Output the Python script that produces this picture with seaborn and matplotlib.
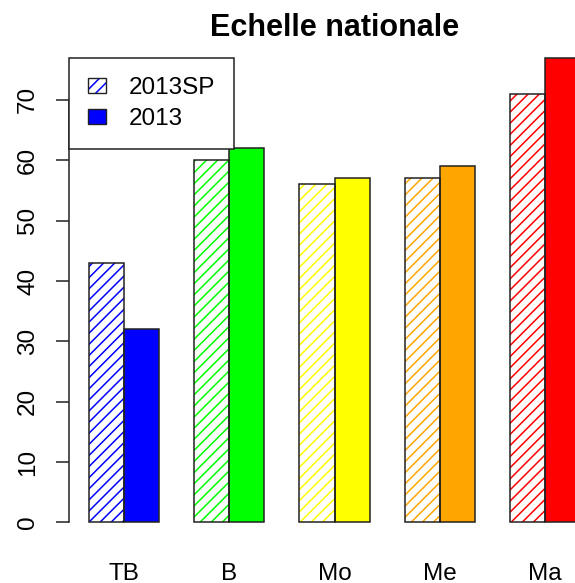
import pandas as pd
import matplotlib.pyplot as plt
from matplotlib.patches import Patch, Rectangle
import seaborn as sns

# Données
categories = ["TB", "B", "Mo", "Me", "Ma"]
series = ["2013SP", "2013"]
val_2013sp = [43, 60, 56, 57, 71]
val_2013 = [32, 62, 57, 59, 77]
couleurs = ["#0000FF", "#00FF00", "#FFFF00", "#FFA500", "#FF0000"]
y_ticks = [0, 10, 20, 30, 40, 50, 60, 70]

df = pd.DataFrame({
    "cat": categories * 2,
    "serie": [series[0]] * len(categories) + [series[1]] * len(categories),
    "val": val_2013sp + val_2013,
})

sns.set_style("white")
plt.rcParams["font.family"] = ["Liberation Sans", "DejaVu Sans"]
plt.rcParams["hatch.linewidth"] = 1.1
plt.rcParams["text.color"] = "black"
plt.rcParams["xtick.color"] = "black"
plt.rcParams["ytick.color"] = "black"
plt.rcParams["axes.titlecolor"] = "black"

fig = plt.figure(figsize=(5.75, 5.83), dpi=100)
# zone de tracé à la manière de R (déborde à droite)
ax = fig.add_axes([69 / 575, 1 - 541 / 583, 531 / 575, 502 / 583])

sns.barplot(data=df, x="cat", y="val", hue="serie", order=categories,
            hue_order=series, dodge=True, width=2 / 3, gap=0,
            errorbar=None, legend=False, ax=ax)

# couleurs par catégorie, hachures pour 2013SP
for p in list(ax.patches):
    centre = p.get_x() + p.get_width() / 2
    i = int(round(centre))
    col = couleurs[i]
    if centre < i:
        p.set_facecolor("white")
        p.set_edgecolor(col)
        p.set_hatch("///")
        p.set_linewidth(0)
        ax.add_patch(Rectangle((p.get_x(), p.get_y()), p.get_width(), p.get_height(),
                               fill=False, edgecolor="#222222", linewidth=1.1, zorder=3))
    else:
        p.set_facecolor(col)
        p.set_edgecolor("#222222")
        p.set_linewidth(1.1)

ax.set_xlim(-0.52, 4.52)
ax.set_ylim(-3.08, 80.08)

for s in ["top", "right", "bottom"]:
    ax.spines[s].set_visible(False)
ax.spines["left"].set_bounds(0, 70)
ax.spines["left"].set_linewidth(1.1)
ax.spines["left"].set_color("#222222")

ax.set_yticks(y_ticks)
ax.tick_params(axis="y", length=9.5, width=1.1, color="#222222", pad=12,
               labelsize=17.5, left=True)
for lab in ax.get_yticklabels():
    lab.set_rotation(90)
    lab.set_va("center")
ax.tick_params(axis="x", length=0, pad=15.5, labelsize=17.5)
ax.set_xlabel("")
ax.set_ylabel("")

ax.set_title("Echelle nationale", fontsize=22, fontweight="bold", pad=2)

# Légende
h_hach = (Patch(facecolor="white", edgecolor=couleurs[0], hatch="///", linewidth=0),
          Patch(facecolor="none", edgecolor="#222222", linewidth=1.0))
h_plein = Patch(facecolor=couleurs[0], edgecolor="#222222", linewidth=1.0)
leg = ax.legend([h_hach, h_plein], series, loc="upper left",
                bbox_to_anchor=(69 / 575, 1 - 58 / 583), bbox_transform=fig.transFigure,
                borderaxespad=0, fontsize=17.5, fancybox=False, framealpha=1,
                edgecolor="#222222", borderpad=0.78, handlelength=0.74,
                handleheight=0.6, handletextpad=0.95, labelspacing=0.38)
leg.get_frame().set_linewidth(1.1)

fig.savefig("out.png", dpi=100)
